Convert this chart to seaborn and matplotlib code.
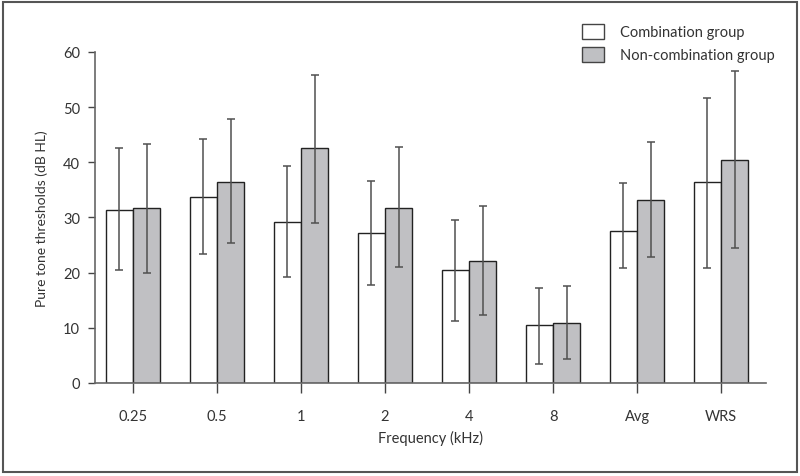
import numpy as np
import pandas as pd
import matplotlib
matplotlib.use("Agg")
import matplotlib.pyplot as plt
import matplotlib.patches as mpatches
import seaborn as sns

# 数据
freqs = ["0.25", "0.5", "1", "2", "4", "8", "Avg", "WRS"]
groups = ["Combination group", "Non-combination group"]

comb_mean = [31.3, 33.8, 29.2, 27.2, 20.4, 10.5, 27.6, 36.5]
comb_low = [20.4, 23.3, 19.3, 17.7, 11.3, 3.4, 20.9, 20.9]
comb_high = [42.5, 44.3, 39.3, 36.7, 29.5, 17.2, 36.2, 51.7]

non_mean = [31.7, 36.5, 42.5, 31.8, 22.2, 10.9, 33.2, 40.5]
non_low = [20.0, 25.3, 29.0, 21.1, 12.3, 4.3, 22.9, 24.5]
non_high = [43.4, 47.8, 55.8, 42.7, 32.1, 17.6, 43.6, 56.5]

df = pd.DataFrame({
    "freq": freqs * 2,
    "group": [groups[0]] * len(freqs) + [groups[1]] * len(freqs),
    "mean": comb_mean + non_mean,
    "low": comb_low + non_low,
    "high": comb_high + non_high,
})

sns.set_style("white")
plt.rcParams["font.family"] = ["Lato", "DejaVu Sans"]

fig = plt.figure(figsize=(8, 4.77), dpi=100)
ax = fig.add_axes([0.119, 0.195, 0.839, 0.694])

palette = {groups[0]: "white", groups[1]: "#bfc0c3"}
sns.barplot(data=df, x="freq", y="mean", hue="group", order=freqs,
            hue_order=groups, palette=palette, width=0.65, errorbar=None,
            edgecolor="#222222", linewidth=1.0, legend=False, ax=ax)

# 误差线：按柱子中心绘制
bars = [p for p in ax.patches if isinstance(p, mpatches.Rectangle)]
for bar, (_, row) in zip(bars, df.iterrows()):
    cx = bar.get_x() + bar.get_width() / 2
    ax.errorbar(cx, row["mean"],
                yerr=[[row["mean"] - row["low"]], [row["high"] - row["mean"]]],
                fmt="none", ecolor="#505050", elinewidth=1.1,
                capsize=3, capthick=1.1, zorder=5)

ax.set_ylim(0, 60)
ax.set_xlim(-0.45, 7.54)
ax.set_yticks(range(0, 61, 10))
ax.set_xlabel("Frequency (kHz)", fontsize=10.5, color="#333333", labelpad=5)
ax.set_ylabel("Pure tone thresholds (dB HL)", fontsize=10, color="#333333", labelpad=11)

for s in ["top", "right"]:
    ax.spines[s].set_visible(False)
for s in ["left", "bottom"]:
    ax.spines[s].set_color("#666666")
    ax.spines[s].set_linewidth(1.2)

ax.tick_params(axis="y", direction="out", length=5, width=1, color="#444444",
               labelsize=10.5, labelcolor="#333333", pad=6, left=True)
ax.tick_params(axis="x", direction="out", length=7, width=1, color="#444444",
               labelsize=10.5, labelcolor="#333333", pad=12, bottom=True)

# 图例
handles = [mpatches.Patch(facecolor=palette[g], edgecolor="#444444", linewidth=1.0, label=g)
           for g in groups]
fig.legend(handles=handles, loc="upper right", bbox_to_anchor=(0.985, 0.975),
           frameon=False, fontsize=10.5, handlelength=1.5, handleheight=1.2,
           handletextpad=1.1, labelspacing=0.5, labelcolor="#333333")

# 外框
fig.add_artist(mpatches.Rectangle((0.004, 0.008), 0.992, 0.985, transform=fig.transFigure,
                                  fill=False, edgecolor="#555555", linewidth=1.5))

fig.savefig("out.png", dpi=100)
